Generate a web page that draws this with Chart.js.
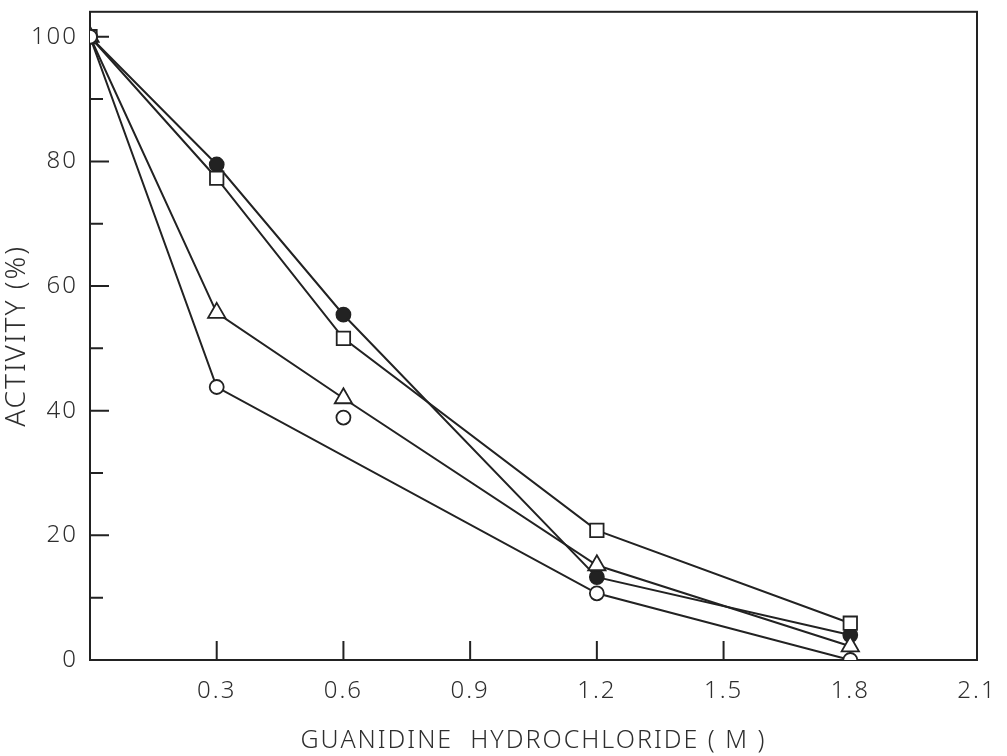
<!DOCTYPE html>
<html>
<head>
<meta charset="utf-8">
<script src="https://cdn.jsdelivr.net/npm/chart.js@4.4.1/dist/chart.umd.min.js"></script>
<style>
  html, body { margin: 0; padding: 0; background: #fff; }
  canvas { display: block; }
</style>
</head>
<body>
<canvas id="activity-chart" width="1007" height="756"></canvas>
<script>
const concentrations = [0, 0.3, 0.6, 1.2, 1.8];
const filledCircle = [100, 79.5, 55.4, 13.3, 4.0];
const openSquare = [100, 77.3, 51.6, 20.8, 5.9];
const openTriangle = [100, 55.7, 42.0, 15.2, 2.2];
const openCircle = [100, 43.8, 38.9, 10.7, 0];
// index of the open-circle point that the line does not pass through
const openCircleOffLine = [2];

const xTicks = [0.3, 0.6, 0.9, 1.2, 1.5, 1.8, 2.1];
const yTicks = [0, 20, 40, 60, 80, 100];
const yMinorTicks = [10, 30, 50, 70, 90];

const ink = "#222";
const textColor = "#2e2e2e";
const family = "'Noto Sans', 'DejaVu Sans', sans-serif";

function points(values, skip) {
  return concentrations.map((x, i) => ({
    x: x,
    y: skip && skip.includes(i) ? null : values[i],
  }));
}

const innerTicks = {
  id: "innerTicks",
  beforeDraw(chart) {
    chart.ctx.letterSpacing = "2px";
  },
  beforeDatasetsDraw(chart) {
    const c = chart.ctx;
    const area = chart.chartArea;
    const xs = chart.scales.x;
    const ys = chart.scales.y;
    c.save();
    c.strokeStyle = ink;
    c.lineWidth = 2;
    c.strokeRect(area.left, area.top, area.right - area.left, area.bottom - area.top);
    c.beginPath();
    xTicks.slice(0, -1).forEach((v) => {
      const px = xs.getPixelForValue(v);
      c.moveTo(px, area.bottom);
      c.lineTo(px, area.bottom - 19);
    });
    yTicks.forEach((v) => {
      const py = ys.getPixelForValue(v);
      c.moveTo(area.left, py);
      c.lineTo(area.left + 19, py);
    });
    yMinorTicks.forEach((v) => {
      const py = ys.getPixelForValue(v);
      c.moveTo(area.left, py);
      c.lineTo(area.left + 13, py);
    });
    c.stroke();
    c.restore();
  },
};

const common = {
  borderColor: ink,
  borderWidth: 2,
  pointBorderColor: ink,
  pointBorderWidth: 1.8,
  pointBackgroundColor: "#fff",
  tension: 0,
};

new Chart(document.getElementById("activity-chart").getContext("2d"), {
  type: "line",
  data: {
    datasets: [
      {
        ...common,
        label: "open circle",
        data: points(openCircle, openCircleOffLine),
        spanGaps: true,
        pointStyle: "circle",
        pointRadius: 7,
      },
      {
        ...common,
        label: "open circle (off line)",
        data: openCircleOffLine.map((i) => ({ x: concentrations[i], y: openCircle[i] })),
        showLine: false,
        pointStyle: "circle",
        pointRadius: 7,
      },
      {
        ...common,
        label: "triangle",
        data: points(openTriangle),
        pointStyle: "triangle",
        pointRadius: 10,
      },
      {
        ...common,
        label: "square",
        data: points(openSquare),
        pointStyle: "rect",
        pointRadius: 9.5,
      },
      {
        ...common,
        label: "filled circle",
        data: points(filledCircle),
        pointStyle: "circle",
        pointRadius: 7,
        pointBackgroundColor: ink,
      },
    ],
  },
  options: {
    responsive: false,
    animation: false,
    layout: { padding: { left: 0, right: 30, top: 9, bottom: 0 } },
    plugins: {
      legend: { display: false },
      tooltip: { enabled: false },
    },
    scales: {
      x: {
        type: "linear",
        min: 0,
        max: 2.1,
        afterBuildTicks: (scale) => {
          scale.ticks = xTicks.map((v) => ({ value: v }));
        },
        afterFit: (scale) => {
          scale.height = 96;
          scale.paddingLeft = 0;
          scale.paddingRight = 0;
        },
        grid: { display: false },
        border: { display: false },
        ticks: {
          color: textColor,
          font: { family: family, size: 24, weight: 300 },
          padding: 9,
          maxRotation: 0,
          callback: (v) => Number(v).toFixed(1),
        },
        title: {
          display: true,
          text: "GUANIDINE  HYDROCHLORIDE ( M )",
          color: textColor,
          font: { family: family, size: 25, weight: 300 },
          padding: { top: 12, bottom: 0 },
        },
      },
      y: {
        type: "linear",
        min: 0,
        max: 104,
        afterBuildTicks: (scale) => {
          scale.ticks = yTicks.map((v) => ({ value: v }));
        },
        afterFit: (scale) => {
          scale.width = 90;
          scale.paddingTop = 0;
          scale.paddingBottom = 0;
        },
        grid: { display: false },
        border: { display: false },
        ticks: {
          color: textColor,
          font: { family: family, size: 24, weight: 300 },
          padding: 4,
        },
        title: {
          display: true,
          text: "ACTIVITY (%)",
          color: textColor,
          font: { family: family, size: 28, weight: 300 },
          padding: { top: 0, bottom: 0 },
        },
      },
    },
  },
  plugins: [innerTicks],
});
</script>
</body>
</html>
